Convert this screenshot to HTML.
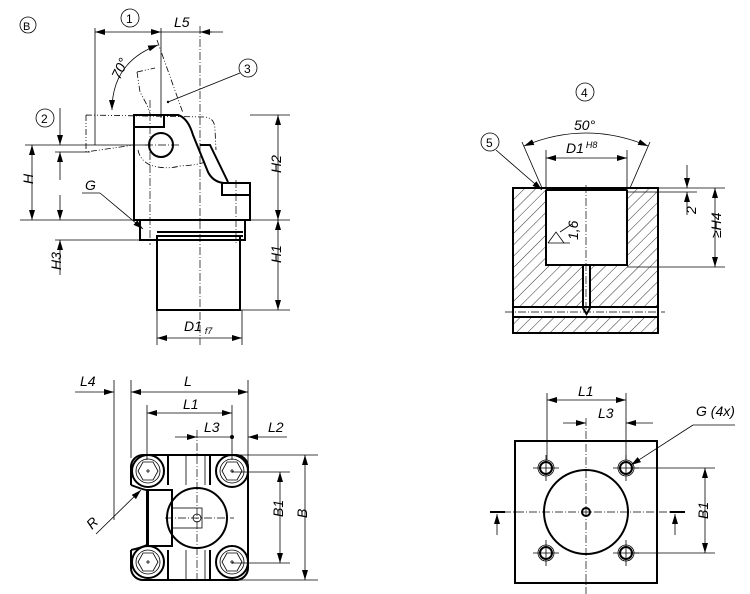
<!DOCTYPE html>
<html><head><meta charset="utf-8"><style>
body{margin:0;background:#fff}
svg{display:block}
text{font-family:"Liberation Sans",sans-serif;font-style:italic;font-size:14px;fill:#000}
.t{stroke:#000;stroke-width:2;fill:none}
.n{stroke:#000;stroke-width:0.8;fill:none}
.c{stroke:#000;stroke-width:0.7;fill:none;stroke-dasharray:8 2 1 2}
.d{stroke:#000;stroke-width:0.8;fill:none;stroke-dasharray:6 2 1 2 1 2}
</style></head><body>
<svg width="750" height="594" viewBox="0 0 750 594" xmlns="http://www.w3.org/2000/svg">
<defs>
<marker id="a" viewBox="0 0 10 6" refX="10" refY="3" markerWidth="10" markerHeight="6" orient="auto-start-reverse" markerUnits="userSpaceOnUse"><path d="M0,0L10,3L0,6z" fill="#000"/></marker>
<pattern id="h" width="8" height="8" patternUnits="userSpaceOnUse" patternTransform="rotate(45)"><line x1="0" y1="0" x2="0" y2="8" stroke="#000" stroke-width="0.8"/></pattern>
</defs>

<!-- ===== Top-left view ===== -->
<circle cx="28" cy="25" r="8" class="n"/><text x="23" y="30" style="font-style:normal;font-size:11px">B</text>
<circle cx="130" cy="18" r="9" class="n"/><text x="126" y="23" style="font-style:normal;font-size:12px">1</text>
<line x1="95" y1="28" x2="95" y2="145" class="n"/>
<line x1="161" y1="28" x2="161" y2="118" class="n"/>
<line x1="95" y1="32" x2="161" y2="32" class="n" marker-start="url(#a)" marker-end="url(#a)"/>
<line x1="161" y1="32" x2="223" y2="32" class="n"/>
<line x1="212" y1="32" x2="200" y2="32" class="n" marker-end="url(#a)"/>
<text x="174" y="27">L5</text>
<line x1="200" y1="26" x2="200" y2="345" class="c"/>
<path d="M112,110 Q112,62 158,45" class="n" marker-start="url(#a)" marker-end="url(#a)"/>
<text x="112" y="80" transform="rotate(-65 116 74)">70°</text>
<line x1="157" y1="40" x2="183" y2="113" class="d"/>
<path d="M137,72 L155,68 M137,72 L140,92 L147,105 L150,113" class="d"/>
<circle cx="248" cy="68" r="9" class="n"/><text x="244" y="73" style="font-style:normal;font-size:12px">3</text>
<line x1="240" y1="73" x2="168" y2="102" class="n"/><circle cx="168" cy="102" r="1.2"/>
<path d="M86,115 L205,117 Q215,118 215,130 L216,150 M86,115 L86,152 L134,145 M138,150 Q140,160 150,165 Q165,170 180,166 Q198,165 205,162" class="d"/>
<path d="M134,220 L134,115 L178,115 Q188,118 193,135 L208,172 Q213,182 224,183 L250,183 L250,220 Z" class="t"/>
<rect x="134" y="115" width="30" height="12" class="t"/>
<path d="M200,145 L210,145 L228,182" class="t"/>
<rect x="222" y="183" width="28" height="12" class="t"/>
<circle cx="161" cy="145" r="12" class="t"/>
<line x1="145" y1="145" x2="180" y2="145" class="c"/>
<line x1="150" y1="100" x2="150" y2="245" class="c"/>
<line x1="236" y1="180" x2="236" y2="245" class="c"/>
<rect x="140" y="220" width="105" height="20" class="t"/>
<line x1="157" y1="232" x2="243" y2="232" class="t"/>
<line x1="157" y1="236" x2="243" y2="236" class="t"/>
<rect x="157" y="236" width="83" height="74" class="t"/>
<line x1="20" y1="220" x2="290" y2="220" class="n"/>
<line x1="250" y1="115" x2="290" y2="115" class="n"/>
<line x1="240" y1="310" x2="290" y2="310" class="n"/>
<line x1="25" y1="145" x2="148" y2="145" class="n"/>
<line x1="55" y1="152" x2="90" y2="152" class="n"/>
<line x1="55" y1="240" x2="140" y2="240" class="n"/>
<line x1="278" y1="115" x2="278" y2="220" class="n" marker-start="url(#a)" marker-end="url(#a)"/>
<line x1="278" y1="220" x2="278" y2="310" class="n" marker-start="url(#a)" marker-end="url(#a)"/>
<text x="274" y="180" transform="rotate(-90 274 173)">H2</text>
<text x="274" y="270" transform="rotate(-90 274 263)">H1</text>
<line x1="32" y1="145" x2="32" y2="220" class="n" marker-start="url(#a)" marker-end="url(#a)"/>
<text x="27" y="190" transform="rotate(-90 27 184)">H</text>
<line x1="60" y1="108" x2="60" y2="145" class="n" marker-end="url(#a)"/>
<line x1="60" y1="180" x2="60" y2="152" class="n" marker-end="url(#a)"/>
<line x1="60" y1="195" x2="60" y2="220" class="n" marker-end="url(#a)"/>
<line x1="60" y1="275" x2="60" y2="240" class="n" marker-end="url(#a)"/>
<text x="55" y="276" transform="rotate(-90 55 270)">H3</text>
<circle cx="45" cy="118" r="9" class="n"/><text x="41" y="123" style="font-style:normal;font-size:12px">2</text>
<text x="85" y="190">G</text>
<line x1="82" y1="193" x2="100" y2="193" class="n"/>
<line x1="100" y1="193" x2="143" y2="229" class="n" marker-end="url(#a)"/>
<line x1="157" y1="310" x2="157" y2="345" class="n"/>
<line x1="242" y1="310" x2="242" y2="345" class="n"/>
<line x1="157" y1="338" x2="242" y2="338" class="n" marker-start="url(#a)" marker-end="url(#a)"/>
<text x="184" y="331">D1<tspan font-size="9" dx="3" dy="3">f7</tspan></text>

<!-- ===== Top-right section ===== -->
<circle cx="585" cy="92" r="9" class="n"/><text x="581" y="97" style="font-style:normal;font-size:12px">4</text>
<circle cx="490" cy="142" r="9" class="n"/><text x="486" y="147" style="font-style:normal;font-size:12px">5</text>
<line x1="496" y1="150" x2="542" y2="190" class="n" marker-end="url(#a)"/>
<rect x="513" y="188" width="145" height="145" fill="url(#h)"/>
<rect x="546" y="190" width="81" height="75" fill="#fff"/>
<rect x="583" y="265" width="7" height="45" fill="#fff"/>
<rect x="513" y="307" width="145" height="10" fill="#fff"/>
<rect x="513" y="188" width="145" height="145" class="t"/>
<line x1="546" y1="190" x2="627" y2="190" class="t"/>
<path d="M546,190 L546,265 L627,265 L627,190" class="t"/>
<path d="M583,265 L583,308 L586.5,314 L590,308 L590,265" class="t"/>
<line x1="513" y1="307" x2="658" y2="307" class="t"/>
<line x1="513" y1="317" x2="658" y2="317" class="t"/>
<line x1="505" y1="312" x2="665" y2="312" class="c"/>
<line x1="586" y1="185" x2="586" y2="312" class="c"/>
<line x1="542" y1="188" x2="522" y2="142" class="n"/>
<line x1="630" y1="188" x2="650" y2="142" class="n"/>
<path d="M524,146 Q586,120 648,146" class="n" marker-start="url(#a)" marker-end="url(#a)"/>
<text x="574" y="130">50°</text>
<line x1="546" y1="150" x2="546" y2="190" class="n"/>
<line x1="627" y1="150" x2="627" y2="190" class="n"/>
<line x1="546" y1="158" x2="627" y2="158" class="n" marker-start="url(#a)" marker-end="url(#a)"/>
<text x="566" y="153">D1<tspan font-size="9" dx="2" dy="-5">H8</tspan></text>
<line x1="627" y1="192" x2="697" y2="192" class="n"/>
<line x1="658" y1="188" x2="725" y2="188" class="n"/>
<line x1="627" y1="267" x2="725" y2="267" class="n"/>
<line x1="687" y1="165" x2="687" y2="188" class="n" marker-end="url(#a)"/>
<line x1="687" y1="215" x2="687" y2="192" class="n" marker-end="url(#a)"/>
<text x="690" y="220" transform="rotate(-90 690 214)">2</text>
<line x1="715" y1="188" x2="715" y2="267" class="n" marker-start="url(#a)" marker-end="url(#a)"/>
<text x="713" y="246" transform="rotate(-90 713 238)">≥H4</text>
<path d="M548,243 L570,243 M548,243 L556,232 L564,243" class="n"/>
<line x1="560" y1="232" x2="572" y2="224" class="n"/>
<text x="571" y="247" font-size="11" transform="rotate(-90 571 240)">1,6</text>

<!-- ===== Bottom-left view ===== -->
<line x1="75" y1="392" x2="114" y2="392" class="n" marker-end="url(#a)"/>
<text x="80" y="386">L4</text>
<line x1="114" y1="380" x2="114" y2="520" class="n"/>
<line x1="131" y1="380" x2="131" y2="458" class="n"/>
<line x1="248" y1="380" x2="248" y2="470" class="n"/>
<line x1="131" y1="392" x2="248" y2="392" class="n" marker-start="url(#a)" marker-end="url(#a)"/>
<text x="184" y="386">L</text>
<line x1="147" y1="405" x2="147" y2="460" class="n"/>
<line x1="232" y1="405" x2="232" y2="460" class="n"/>
<line x1="147" y1="413" x2="232" y2="413" class="n" marker-start="url(#a)" marker-end="url(#a)"/>
<text x="183" y="409">L1</text>
<line x1="175" y1="437" x2="197" y2="437" class="n" marker-end="url(#a)"/>
<line x1="197" y1="437" x2="232" y2="437" class="n"/>
<circle cx="232" cy="437" r="2"/>
<text x="204" y="432">L3</text>
<line x1="287" y1="437" x2="248" y2="437" class="n" marker-end="url(#a)"/>
<text x="268" y="432">L2</text>
<line x1="197" y1="430" x2="197" y2="580" class="c"/>
<rect x="131" y="455" width="117" height="125" rx="12" class="t"/>
<line x1="168" y1="455" x2="168" y2="485" class="t"/><line x1="210" y1="455" x2="210" y2="485" class="t"/>
<line x1="186" y1="455" x2="186" y2="485" class="n"/><line x1="205" y1="455" x2="205" y2="485" class="n"/>
<line x1="168" y1="550" x2="168" y2="580" class="t"/><line x1="210" y1="550" x2="210" y2="580" class="t"/>
<line x1="186" y1="550" x2="186" y2="580" class="n"/><line x1="205" y1="550" x2="205" y2="580" class="n"/>
<rect x="129" y="485" width="32" height="65" fill="#fff"/>
<path d="M131,485 Q144,490 147,490 L147,545 Q140,548 131,550" class="t"/>
<rect x="148" y="490" width="24" height="56" class="t"/>
<circle cx="197" cy="518" r="30" class="t"/>
<rect x="172" y="508" width="30" height="20" class="n"/>
<circle cx="197" cy="518" r="4" class="n"/>
<line x1="165" y1="518" x2="234" y2="518" class="c"/>
<g class="t">
<circle cx="148" cy="471" r="16"/><circle cx="232" cy="471" r="16"/>
<circle cx="148" cy="562" r="16"/><circle cx="232" cy="562" r="16"/>
</g>
<g class="n">
<circle cx="148" cy="471" r="12"/><circle cx="232" cy="471" r="12"/>
<circle cx="148" cy="562" r="12"/><circle cx="232" cy="562" r="12"/>
<polygon points="158,471 153,480 143,480 138,471 143,462 153,462"/>
<polygon points="242,471 237,480 227,480 222,471 227,462 237,462"/>
<polygon points="158,562 153,571 143,571 138,562 143,553 153,553"/>
<polygon points="242,562 237,571 227,571 222,562 227,553 237,553"/>
<path d="M146,471h4M148,469v4M230,471h4M232,469v4M146,562h4M148,560v4M230,562h4M232,560v4"/>
</g>
<line x1="232" y1="472" x2="290" y2="472" class="n"/>
<line x1="232" y1="563" x2="290" y2="563" class="n"/>
<line x1="240" y1="455" x2="318" y2="455" class="n"/>
<line x1="240" y1="580" x2="318" y2="580" class="n"/>
<line x1="280" y1="472" x2="280" y2="563" class="n" marker-start="url(#a)" marker-end="url(#a)"/>
<text x="276" y="524" transform="rotate(-90 276 517)">B1</text>
<line x1="305" y1="455" x2="305" y2="580" class="n" marker-start="url(#a)" marker-end="url(#a)"/>
<text x="301" y="524" transform="rotate(-90 301 518)">B</text>
<line x1="96" y1="534" x2="141" y2="490" class="n" marker-end="url(#a)"/>
<text x="92" y="530" transform="rotate(-45 92 530)">R</text>

<!-- ===== Bottom-right view ===== -->
<rect x="515" y="441" width="142" height="142" class="t"/>
<circle cx="586" cy="512" r="42" class="t"/>
<circle cx="586" cy="512" r="4" class="t"/>
<line x1="490" y1="512" x2="685" y2="512" class="c"/>
<line x1="586" y1="418" x2="586" y2="594" class="c"/>
<g class="t">
<circle cx="546" cy="468" r="6"/><circle cx="626" cy="468" r="6"/>
<circle cx="546" cy="553" r="6"/><circle cx="626" cy="553" r="6"/>
</g>
<g class="n">
<circle cx="546" cy="468" r="8"/><circle cx="626" cy="468" r="8"/>
<circle cx="546" cy="553" r="8"/><circle cx="626" cy="553" r="8"/>
<path d="M533,468h26M546,455v26M613,468h26M626,455v26M533,553h26M546,540v26M613,553h26M626,540v26"/>
</g>
<line x1="547" y1="393" x2="547" y2="460" class="n"/>
<line x1="626" y1="393" x2="626" y2="460" class="n"/>
<line x1="547" y1="400" x2="626" y2="400" class="n" marker-start="url(#a)" marker-end="url(#a)"/>
<text x="578" y="396">L1</text>
<line x1="563" y1="423" x2="586" y2="423" class="n" marker-end="url(#a)"/>
<line x1="653" y1="423" x2="626" y2="423" class="n" marker-end="url(#a)"/>
<text x="598" y="418">L3</text>
<text x="696" y="416">G (4x)</text>
<line x1="693" y1="425" x2="735" y2="425" class="n"/>
<line x1="693" y1="425" x2="631" y2="465" class="n" marker-end="url(#a)"/>
<line x1="634" y1="468" x2="715" y2="468" class="n"/>
<line x1="634" y1="553" x2="715" y2="553" class="n"/>
<line x1="705" y1="468" x2="705" y2="553" class="n" marker-start="url(#a)" marker-end="url(#a)"/>
<text x="701" y="526" transform="rotate(-90 701 519)">B1</text>
<line x1="490" y1="512" x2="505" y2="512" class="t"/>
<line x1="497" y1="535" x2="497" y2="514" class="n" marker-end="url(#a)"/>
<line x1="670" y1="512" x2="685" y2="512" class="t"/>
<line x1="675" y1="535" x2="675" y2="514" class="n" marker-end="url(#a)"/>
</svg>
</body></html>
